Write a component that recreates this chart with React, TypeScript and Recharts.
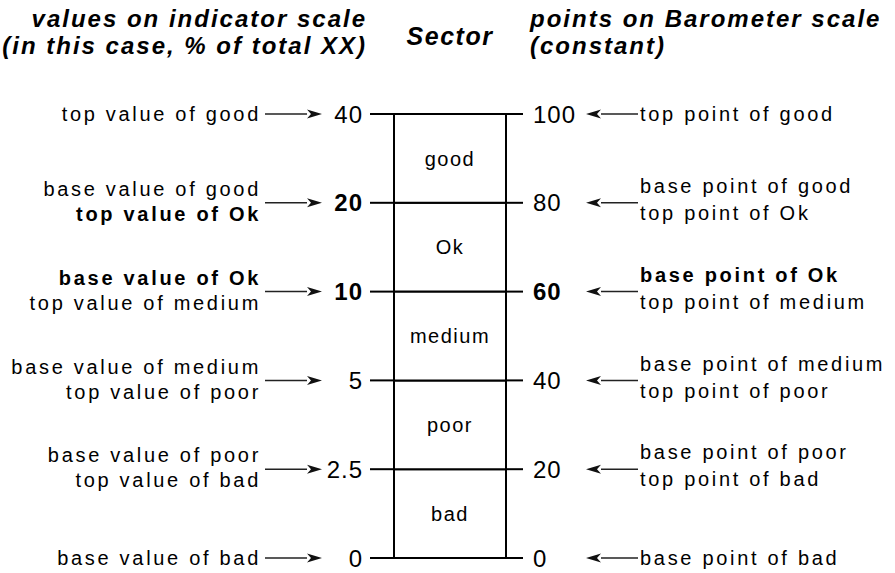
import React from 'react';
import { ComposedChart, Bar, XAxis, YAxis, LabelList, Label } from 'recharts';

// sectors stacked from bottom to top, each worth 20 Barometer points
const sectors = ['bad', 'poor', 'medium', 'Ok', 'good'];
const sectorPoints = [20, 20, 20, 20, 20];

const barometerTicks = [0, 20, 40, 60, 80, 100];
const indicatorTicks = ['0', '2.5', '5', '10', '20', '40'];
const boldIndicator = ['10', '20'];
const boldBarometer = [60];

type Note = { t: string; b?: boolean };

const leftNotes: Note[][] = [
    [{ t: 'base value of bad' }],
    [{ t: 'base value of poor' }, { t: 'top value of bad' }],
    [{ t: 'base value of medium' }, { t: 'top value of poor' }],
    [{ t: 'base value of Ok', b: true }, { t: 'top value of medium' }],
    [{ t: 'base value of good' }, { t: 'top value of Ok', b: true }],
    [{ t: 'top value of good' }],
];

const rightNotes: Note[][] = [
    [{ t: 'base point of bad' }],
    [{ t: 'base point of poor' }, { t: 'top point of bad' }],
    [{ t: 'base point of medium' }, { t: 'top point of poor' }],
    [{ t: 'base point of Ok', b: true }, { t: 'top point of medium' }],
    [{ t: 'base point of good' }, { t: 'top point of Ok' }],
    [{ t: 'top point of good' }],
];

const FONT = '"Liberation Sans", Arial, sans-serif';

const row: Record<string, string | number> = { sector: 'Sector' };
sectors.forEach((s, i) => {
    row[s] = sectorPoints[i];
});
const data = [row];

const Arrow = ({ from, to, y }: { from: number; to: number; y: number }) => {
    const dir = to > from ? 1 : -1;
    const head = 15;
    return (
        <g>
            <line x1={from} y1={y} x2={to - dir * head} y2={y} stroke="#222" strokeWidth={1.5} />
            <polygon
                points={`${to},${y} ${to - dir * head},${y - 4.5} ${to - dir * (head - 4)},${y} ${to - dir * head},${y + 4.5}`}
                fill="#111"
            />
        </g>
    );
};

const noteText = (n: Note, x: number, y: number, anchor: 'start' | 'end', key: number) => (
    <text
        key={key}
        x={x}
        y={y}
        dy="0.36em"
        textAnchor={anchor}
        fontFamily={FONT}
        fontSize={20}
        letterSpacing={2.7}
        fontWeight={n.b ? 'bold' : 'normal'}
        fill="#000"
    >
        {n.t}
    </text>
);

const LeftTick = (props: any) => {
    const { x, y, payload } = props;
    const i = barometerTicks.indexOf(payload.value);
    const label = indicatorTicks[i];
    const notes = leftNotes[i];
    const offs = notes.length === 1 ? [0] : [-14, 11];
    return (
        <g>
            <text
                x={x}
                y={y}
                dy="0.36em"
                textAnchor="end"
                fontFamily={FONT}
                fontSize={24}
                letterSpacing={1}
                fontWeight={boldIndicator.includes(label) ? 'bold' : 'normal'}
                fill="#000"
            >
                {label}
            </text>
            <Arrow from={265} to={322} y={y} />
            {notes.map((n, k) => noteText(n, 261, y + offs[k], 'end', k))}
        </g>
    );
};

const RightTick = (props: any) => {
    const { x, y, payload } = props;
    const i = barometerTicks.indexOf(payload.value);
    const notes = rightNotes[i];
    const offs = notes.length === 1 ? [0] : [-17, 10];
    return (
        <g>
            <text
                x={x}
                y={y}
                dy="0.36em"
                textAnchor="start"
                fontFamily={FONT}
                fontSize={24}
                letterSpacing={1}
                fontWeight={boldBarometer.includes(payload.value) ? 'bold' : 'normal'}
                fill="#000"
            >
                {payload.value}
            </text>
            <Arrow from={638} to={586} y={y} />
            {notes.map((n, k) => noteText(n, 640, y + offs[k], 'start', k))}
        </g>
    );
};

const SectorTick = (props: any) => {
    const { x, payload } = props;
    return (
        <text
            x={x}
            y={45}
            textAnchor="middle"
            fontFamily={FONT}
            fontSize={25}
            fontWeight="bold"
            fontStyle="italic"
            letterSpacing={1.5}
            fill="#000"
        >
            {payload.value}
        </text>
    );
};

const headingStyle = {
    fontFamily: FONT,
    fontSize: 24,
    fontWeight: 'bold' as const,
    fontStyle: 'italic' as const,
    letterSpacing: 2,
    fill: '#000',
};

const Headings = () => (
    <g>
        <text x={367} y={27} textAnchor="end" {...headingStyle}>values on indicator scale</text>
        <text x={367} y={54} textAnchor="end" {...headingStyle}>(in this case, % of total XX)</text>
        <text x={530} y={27} textAnchor="start" {...headingStyle}>points on Barometer scale</text>
        <text x={530} y={54} textAnchor="start" {...headingStyle}>(constant)</text>
    </g>
);

const segmentLabel = (name: string) => (p: any) => (
    <text
        x={p.x + p.width / 2}
        y={p.y + p.height / 2}
        dy="0.36em"
        textAnchor="middle"
        fontFamily={FONT}
        fontSize={20}
        letterSpacing={1.5}
        fill="#000"
    >
        {name}
    </text>
);

export default function App() {
    return (
        <div style={{ position: 'absolute', left: 0, top: 0, background: '#fff' }}>
            <ComposedChart
                width={895}
                height={573}
                data={data}
                margin={{ top: 0, right: 0, bottom: 15, left: 0 }}
                barCategoryGap={0}
            >
                <XAxis
                    dataKey="sector"
                    xAxisId="top"
                    orientation="top"
                    height={114}
                    axisLine={false}
                    tickLine={false}
                    tick={(p: any) => <SectorTick {...p} />}
                />
                {/* indicator scale: same positions as the Barometer points, its own labels */}
                <YAxis
                    yAxisId="left"
                    orientation="left"
                    type="number"
                    width={394}
                    domain={[0, 100]}
                    allowDataOverflow
                    ticks={barometerTicks}
                    interval={0}
                    tickSize={24}
                    tickMargin={7}
                    axisLine={{ stroke: '#000', strokeWidth: 2 }}
                    tickLine={{ stroke: '#000', strokeWidth: 2 }}
                    tick={(p: any) => <LeftTick {...p} />}
                >
                    <Label content={() => <Headings />} />
                </YAxis>
                <YAxis
                    yAxisId="right"
                    orientation="right"
                    width={389}
                    domain={[0, 100]}
                    ticks={barometerTicks}
                    interval={0}
                    tickSize={17}
                    tickMargin={10}
                    axisLine={{ stroke: '#000', strokeWidth: 2 }}
                    tickLine={{ stroke: '#000', strokeWidth: 2 }}
                    tick={(p: any) => <RightTick {...p} />}
                />
                {sectors.map((s) => (
                    <Bar
                        key={s}
                        dataKey={s}
                        xAxisId="top"
                        yAxisId="right"
                        stackId="sector"
                        fill="#fff"
                        stroke="#000"
                        strokeWidth={2}
                        isAnimationActive={false}
                    >
                        <LabelList content={segmentLabel(s)} />
                    </Bar>
                ))}
            </ComposedChart>
        </div>
    );
}
